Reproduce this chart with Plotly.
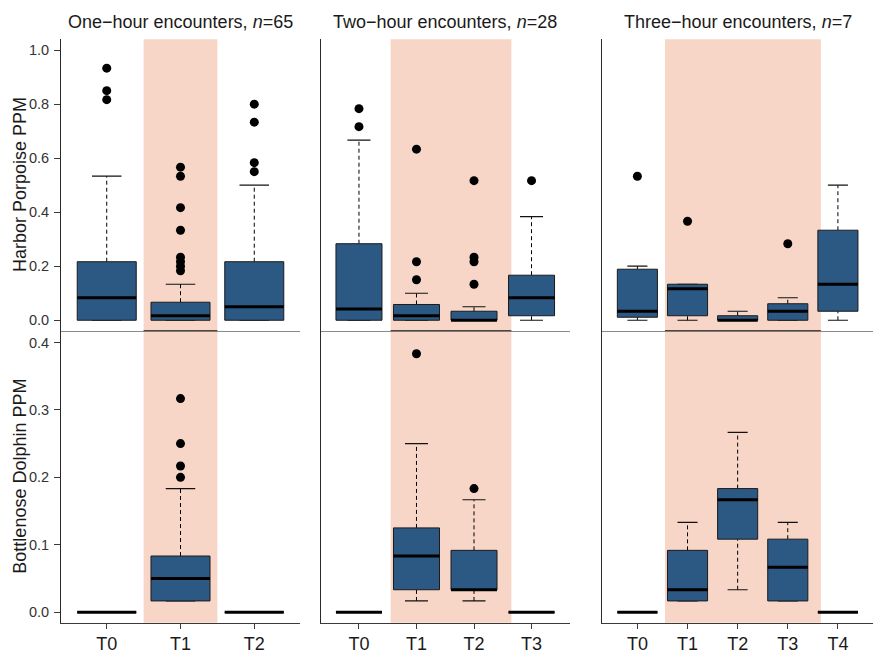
import plotly.graph_objects as go

# ---- periods on the x axis of each column ----
PERIODS_1H = ["T0", "T1", "T2"]
PERIODS_2H = ["T0", "T1", "T2", "T3"]
PERIODS_3H = ["T0", "T1", "T2", "T3", "T4"]

# ---- Harbor porpoise PPM: box statistics (lower whisker, Q1, median, Q3, upper whisker) ----
HP_1H_LOW = [0.0, 0.0, 0.0]
HP_1H_Q1 = [0.0, 0.0, 0.0]
HP_1H_MED = [0.0833, 0.0167, 0.05]
HP_1H_Q3 = [0.2167, 0.0667, 0.2167]
HP_1H_HIGH = [0.5333, 0.1333, 0.5]
HP_1H_OUT = [[0.9333, 0.85, 0.8167],
             [0.5667, 0.5333, 0.4167, 0.3333, 0.2333, 0.2167, 0.2, 0.1833],
             [0.8, 0.7333, 0.5833, 0.55]]

HP_2H_LOW = [0.0, 0.0, 0.0, 0.0]
HP_2H_Q1 = [0.0, 0.0, 0.0, 0.0167]
HP_2H_MED = [0.0417, 0.0167, 0.0, 0.0833]
HP_2H_Q3 = [0.2833, 0.0583, 0.0333, 0.1667]
HP_2H_HIGH = [0.6667, 0.1, 0.05, 0.3833]
HP_2H_OUT = [[0.7833, 0.7167],
             [0.6333, 0.2167, 0.15],
             [0.5167, 0.2333, 0.2167, 0.1333],
             [0.5167]]

HP_3H_LOW = [0.0, 0.0, 0.0, 0.0, 0.0]
HP_3H_Q1 = [0.0111, 0.0167, 0.0, 0.0, 0.0333]
HP_3H_MED = [0.0333, 0.1167, 0.0, 0.0333, 0.1333]
HP_3H_Q3 = [0.1889, 0.1333, 0.0167, 0.0611, 0.3333]
HP_3H_HIGH = [0.2, 0.1333, 0.0333, 0.0833, 0.5]
HP_3H_OUT = [[0.5333], [0.3667], [], [0.2833], []]

# ---- Bottlenose dolphin PPM ----
BD_1H_LOW = [0.0, 0.0167, 0.0]
BD_1H_Q1 = [0.0, 0.0167, 0.0]
BD_1H_MED = [0.0, 0.05, 0.0]
BD_1H_Q3 = [0.0, 0.0833, 0.0]
BD_1H_HIGH = [0.0, 0.1833, 0.0]
BD_1H_OUT = [[], [0.3167, 0.25, 0.2167, 0.2], []]

BD_2H_LOW = [0.0, 0.0167, 0.0167, 0.0]
BD_2H_Q1 = [0.0, 0.0333, 0.0333, 0.0]
BD_2H_MED = [0.0, 0.0833, 0.0333, 0.0]
BD_2H_Q3 = [0.0, 0.125, 0.0917, 0.0]
BD_2H_HIGH = [0.0, 0.25, 0.1667, 0.0]
BD_2H_OUT = [[], [0.3833], [0.1833], []]

BD_3H_LOW = [0.0, 0.0167, 0.0333, 0.0167, 0.0]
BD_3H_Q1 = [0.0, 0.0167, 0.1083, 0.0167, 0.0]
BD_3H_MED = [0.0, 0.0333, 0.1667, 0.0667, 0.0]
BD_3H_Q3 = [0.0, 0.0917, 0.1833, 0.1083, 0.0]
BD_3H_HIGH = [0.0, 0.1333, 0.2667, 0.1333, 0.0]
BD_3H_OUT = [[], [], [], [], []]

TITLES = ["One\u2212hour encounters, <i>n</i>=65",
          "Two\u2212hour encounters, <i>n</i>=28",
          "Three\u2212hour encounters, <i>n</i>=7"]
Y_TITLES = ["Harbor Porpoise PPM", "Bottlenose Dolphin PPM"]

# ---- styling ----
W, H = 873, 654
FONT = "Liberation Sans, Arial, sans-serif"
BOX_FILL = "#2C5884"
BOX_EDGE = "#1b1b1b"
SHADE = "#F7D6C7"
TEXT = "#1a1a1a"

# column placement in pixels (left, right) and x-range of each column
COLS = [
    dict(px=(61, 300), xr=(0.38, 3.62), shade=(1.5, 2.5)),
    dict(px=(321, 569.5), xr=(0.34, 4.66), shade=(1.55, 3.65)),
    dict(px=(602.3, 873), xr=(0.30, 5.70), shade=(1.55, 4.66)),
]
# row placement in pixels (top, bottom) and y-range
ROWS = [
    dict(px=(40, 336.3), yr=(-0.0385, 1.04), ticks=[0, 0.2, 0.4, 0.6, 0.8, 1.0]),
    dict(px=(336.3, 633.3), yr=(-0.0155, 0.4175), ticks=[0, 0.1, 0.2, 0.3, 0.4]),
]

PANELS = [
    (PERIODS_1H, HP_1H_LOW, HP_1H_Q1, HP_1H_MED, HP_1H_Q3, HP_1H_HIGH, HP_1H_OUT),
    (PERIODS_2H, HP_2H_LOW, HP_2H_Q1, HP_2H_MED, HP_2H_Q3, HP_2H_HIGH, HP_2H_OUT),
    (PERIODS_3H, HP_3H_LOW, HP_3H_Q1, HP_3H_MED, HP_3H_Q3, HP_3H_HIGH, HP_3H_OUT),
    (PERIODS_1H, BD_1H_LOW, BD_1H_Q1, BD_1H_MED, BD_1H_Q3, BD_1H_HIGH, BD_1H_OUT),
    (PERIODS_2H, BD_2H_LOW, BD_2H_Q1, BD_2H_MED, BD_2H_Q3, BD_2H_HIGH, BD_2H_OUT),
    (PERIODS_3H, BD_3H_LOW, BD_3H_Q1, BD_3H_MED, BD_3H_Q3, BD_3H_HIGH, BD_3H_OUT),
]


def px_x(v):
    return v / W


def px_y(v):
    return 1 - v / H


fig = go.Figure()
layout = dict(
    width=W, height=H, autosize=False, margin=dict(l=0, r=0, t=0, b=0, pad=0),
    paper_bgcolor="white", plot_bgcolor="white", showlegend=False,
    font=dict(family=FONT, color=TEXT),
)
shapes, annotations = [], []

HALF_BOX = 0.4
HALF_CAP = 0.2

for p, (cats, lo, q1, med, q3, hi, out) in enumerate(PANELS):
    r, c = divmod(p, 3)
    col, row = COLS[c], ROWS[r]
    idx = p + 1
    xname = "xaxis" if idx == 1 else f"xaxis{idx}"
    yname = "yaxis" if idx == 1 else f"yaxis{idx}"
    xa = "x" if idx == 1 else f"x{idx}"
    ya = "y" if idx == 1 else f"y{idx}"

    positions = list(range(1, len(cats) + 1))
    layout[xname] = dict(
        domain=[px_x(col["px"][0]), px_x(col["px"][1])], anchor=ya,
        range=list(col["xr"]), showgrid=False, zeroline=False,
        showline=True, linewidth=1,
        linecolor="#8a8a8a" if r == 0 else "#3a3a3a",
        tickmode="array", tickvals=positions,
        ticktext=cats if r == 1 else [""] * len(cats),
        ticks="outside" if r == 1 else "", ticklen=5, tickcolor="#3a3a3a",
        showticklabels=(r == 1), tickfont=dict(size=18, family=FONT, color=TEXT),
        fixedrange=True,
    )
    layout[yname] = dict(
        domain=[px_y(row["px"][1]), px_y(row["px"][0])], anchor=xa,
        range=list(row["yr"]), showgrid=False, zeroline=False,
        showline=True, linewidth=1, linecolor="#2a2a2a",
        tickmode="array", tickvals=row["ticks"], tickformat=".1f",
        ticks="outside" if c == 0 else "", ticklen=6, tickcolor="#3a3a3a",
        ticklabelstandoff=2,
        showticklabels=(c == 0), tickfont=dict(size=14.5, family=FONT, color="#333333"),
        fixedrange=True,
    )

    # shaded treatment period
    shapes.append(dict(type="rect", xref=xa, yref=f"{ya} domain",
                       x0=col["shade"][0], x1=col["shade"][1], y0=0, y1=1,
                       fillcolor=SHADE, line=dict(width=0), layer="below"))
    if r == 0:
        shapes.append(dict(type="line", xref=xa, yref=f"{ya} domain",
                           x0=col["shade"][0], x1=col["shade"][1], y0=0, y1=0,
                           line=dict(color="#3b2a24", width=1), layer="above"))

    for i, x in enumerate(positions):
        # dashed whiskers
        if hi[i] > q3[i]:
            fig.add_trace(go.Scatter(x=[x, x], y=[q3[i], hi[i]], xaxis=xa, yaxis=ya,
                                     mode="lines", hoverinfo="skip",
                                     line=dict(color="black", width=1, dash="4px,3px")))
        if lo[i] < q1[i]:
            fig.add_trace(go.Scatter(x=[x, x], y=[lo[i], q1[i]], xaxis=xa, yaxis=ya,
                                     mode="lines", hoverinfo="skip",
                                     line=dict(color="black", width=1, dash="4px,3px")))
        # whisker caps
        if hi[i] > 0 or q3[i] > 0:
            for v in (lo[i], hi[i]):
                fig.add_trace(go.Scatter(x=[x - HALF_CAP, x + HALF_CAP], y=[v, v],
                                         xaxis=xa, yaxis=ya, mode="lines", hoverinfo="skip",
                                         line=dict(color="#111111", width=1.2)))
        # box body
        fig.add_trace(go.Scatter(
            x=[x - HALF_BOX, x + HALF_BOX, x + HALF_BOX, x - HALF_BOX, x - HALF_BOX],
            y=[q1[i], q1[i], q3[i], q3[i], q1[i]],
            xaxis=xa, yaxis=ya, mode="lines", fill="toself", fillcolor=BOX_FILL,
            line=dict(color=BOX_EDGE, width=1), hoverinfo="skip"))
        # median
        fig.add_trace(go.Scatter(x=[x - HALF_BOX, x + HALF_BOX], y=[med[i], med[i]],
                                 xaxis=xa, yaxis=ya, mode="lines", hoverinfo="skip",
                                 line=dict(color="black", width=3)))
        # outliers
        if out[i]:
            fig.add_trace(go.Scatter(x=[x] * len(out[i]), y=out[i], xaxis=xa, yaxis=ya,
                                     mode="markers", hoverinfo="skip",
                                     marker=dict(color="black", size=9, line=dict(width=0))))

# column titles
for c, title in enumerate(TITLES):
    cx = (COLS[c]["px"][0] + COLS[c]["px"][1]) / 2
    annotations.append(dict(text=title, xref="paper", yref="paper",
                            x=px_x(cx), y=px_y(22.5), xanchor="center", yanchor="middle",
                            showarrow=False, font=dict(size=18, family=FONT, color=TEXT)))
# row titles
for r, title in enumerate(Y_TITLES):
    cy = (ROWS[r]["px"][0] + ROWS[r]["px"][1]) / 2
    annotations.append(dict(text=title, xref="paper", yref="paper", textangle=-90,
                            x=px_x(20), y=px_y(cy), xanchor="center", yanchor="middle",
                            showarrow=False, font=dict(size=18, family=FONT, color=TEXT)))

layout["shapes"] = shapes
layout["annotations"] = annotations
fig.update_layout(**layout)
fig.write_html("out.html")
